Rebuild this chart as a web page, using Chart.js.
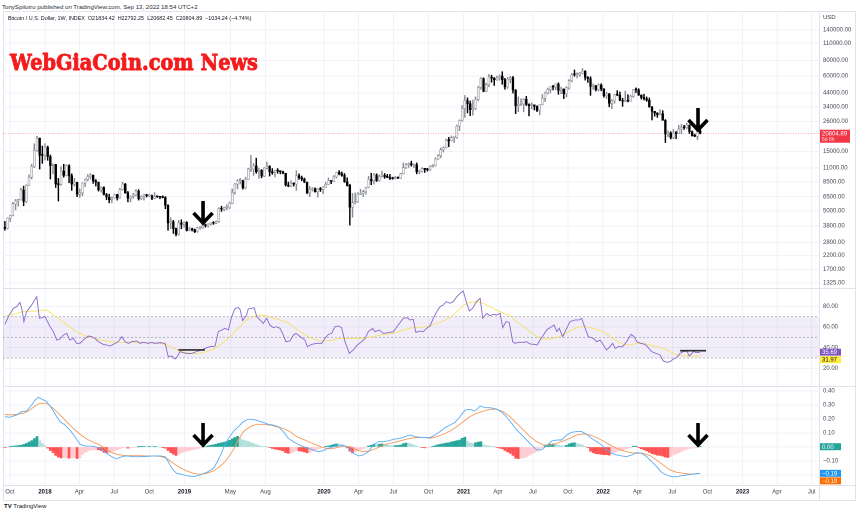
<!DOCTYPE html>
<html><head><meta charset="utf-8">
<script src="https://cdn.jsdelivr.net/npm/chart.js@4.4.1/dist/chart.umd.min.js"></script>
<style>
html,body{margin:0;padding:0;background:#fff;}
#wrap{position:relative;width:860px;height:513px;overflow:hidden;background:#fff;font-family:"Liberation Sans",Arial,sans-serif;}
canvas{position:absolute;}
.t{position:absolute;white-space:nowrap;color:#131722;line-height:1;}
.ln{position:absolute;background:#e0e3eb;}
</style></head><body>
<div id="wrap">
  <div class="ln" style="left:3px;top:11px;width:852px;height:1px"></div>
  <div class="ln" style="left:3px;top:500px;width:852px;height:1px"></div>
  <div class="ln" style="left:3px;top:11px;width:1px;height:490px"></div>
  <div class="ln" style="left:855px;top:11px;width:1px;height:490px"></div>
  <canvas id="cMain" width="852" height="277" style="left:3px;top:11px;width:852px;height:277px"></canvas>
  <canvas id="cRsi" width="852" height="98" style="left:3px;top:288px;width:852px;height:98px"></canvas>
  <canvas id="cMacd" width="852" height="114" style="left:3px;top:386px;width:852px;height:114px"></canvas>
  <div class="ln" style="left:3px;top:288px;width:852px;height:1px"></div>
  <div class="ln" style="left:3px;top:386px;width:852px;height:1px"></div>
  <div class="ln" style="left:3px;top:485px;width:852px;height:1px"></div>
  <div class="ln" style="left:819px;top:11px;width:1px;height:490px"></div>
  <div class="t" id="credit" style="left:2px;top:4px;font-size:5.5px;color:#2a2e39">TonySpilotro published on TradingView.com, Sep 13, 2022 18:54 UTC+2</div>
  <div class="t" id="legend" style="left:8px;top:15.5px;font-size:6px;color:#131722">Bitcoin / U.S. Dollar, 1W, INDEX&nbsp; O21834.42&nbsp; H22792.25&nbsp; L20682.45&nbsp; C20804.89&nbsp; −1034.24 (−4.74%)</div>
  <div class="t" id="wm" style="left:10px;top:50px;font-size:23px;font-weight:bold;font-family:'DejaVu Serif',serif;color:#f51b1b;-webkit-text-stroke:0.9px #f51b1b;transform-origin:0 0">WebGiaCoin.com News</div>
  <div class="t" style="left:823px;top:14px;font-size:6px;color:#434651">USD</div>
  <div class="t" style="left:4px;top:503px;font-size:6px;color:#131722"><b>TV</b> TradingView</div>
</div>
<script>
// ---------- DATA ----------
const firstOpen = 3690;
const closes = [3620,4380,4600,5690,6010,6130,7360,5950,8030,9300,
11300,15200,19100,13900,13880,16200,13600,11500,11760,8200,
8100,10400,9600,11500,9550,8200,8450,6800,7000,8350,
8900,9400,9650,8700,8500,7350,7700,6770,6450,6150,
6350,6750,6350,7400,8200,7000,6300,6500,6700,7200,
6250,6500,6700,6600,6600,6300,6500,6480,6420,6400,
5550,4000,4100,3600,3250,4000,3900,4050,3500,3550,
3530,3410,3660,3660,3830,3800,3920,4000,3990,4100,
5200,5150,5300,5300,5750,7000,8200,8700,8700,7650,
8950,10800,10800,11450,10300,10550,9500,11000,11400,10300,
10100,10500,10400,10300,10000,8050,7900,8300,8200,9550,
9200,9000,8500,7000,7400,7500,7100,7500,7400,7750,
8150,8700,8600,9350,10150,9900,9650,8550,8000,5350,
5800,5900,6800,6900,7100,7700,8900,8700,9700,8700,
9450,9650,9350,9300,9100,9050,9250,9150,9900,11050,
11700,11900,11650,11700,10250,10350,10900,10750,10650,11350,
11500,13000,13800,15400,16000,18400,18200,19200,19200,23800,
26400,33000,38200,36000,32300,33100,38900,48700,57400,45200,
51200,59000,57400,55800,58200,59800,56100,49100,56600,58200,
46400,34700,35600,35800,39000,35500,34700,35300,34200,31800,
35400,39900,43800,47100,49300,48900,51800,46000,47300,43200,
48200,54900,61500,61300,61300,63300,65500,58700,57200,49400,
50100,46700,50800,47300,41800,43100,36300,37900,42400,42200,
38400,37700,38400,37800,41300,46800,46400,42200,40400,39500,
38500,34000,31300,30300,29400,29900,26600,20600,21000,19300,
20850,20800,22600,23300,23200,24300,21500,20000,19800,21834.42,
20804.89];
const highs = [4120,4400,4620,5850,6180,6200,7600,7890,8100,9700,
11800,17200,19800,19100,16500,17250,16500,14000,11900,11800,
9100,11300,11800,11700,11700,9900,9100,8500,7500,8400,
9000,9800,9950,9700,8900,8500,7800,7800,6900,6800,
6450,6800,6800,7600,8500,8300,7150,6600,6900,7400,
7400,6600,6800,6800,6750,6700,7000,6600,6500,6600,
6500,5600,4400,4200,3650,4200,4250,4100,4100,3700,
3640,3580,3700,3700,4200,3920,3950,4020,4100,4150,
5300,5450,5350,5600,5900,7500,8300,8900,9100,8800,
9300,11000,13900,12000,13200,11000,10700,11100,12300,11500,
10900,10600,10900,10500,10400,10000,8500,8700,8400,10500,
9900,9500,9150,8500,7850,7700,7650,7550,7700,7800,
8450,9200,8750,9600,10200,10500,10250,9950,9200,8150,
6900,6950,7000,7450,7300,7750,9450,10000,9950,9900,
9700,10400,9950,9800,9800,9300,9450,9350,10000,12100,
12000,12100,12500,11800,12100,10600,11100,10950,10950,11450,
11750,13300,14100,15950,16300,18800,19400,19900,19400,24300,
26800,34800,41950,40100,37800,38500,40900,49700,58300,58000,
52600,61800,60800,58400,60000,61300,64900,57500,58400,59600,
59500,46700,40800,39500,39500,41300,36000,36600,35100,34700,
35400,42600,44700,48100,49300,50500,51900,52900,48800,47300,
49200,56100,62900,67000,63700,64200,69000,66300,59300,59200,
51900,50600,51900,52100,47600,44500,43500,38900,42700,45800,
44700,39800,45400,42500,42300,46900,48200,47500,42400,42900,
40800,40000,34200,31300,30600,32300,31700,26900,21800,21500,
22400,21600,24200,24600,24200,25200,24400,21800,20600,21900,
22792.25];
const lows = [3500,3580,4100,4560,5100,5450,6120,5500,5800,7990,
9010,11100,15000,10800,12000,12750,12700,9000,9900,7700,
6000,8000,9300,9500,8400,7300,7900,6500,6400,6600,
7800,8700,9000,8300,7900,7200,7050,6700,6150,5800,
5800,6300,6100,6300,7300,6900,5900,5900,6300,6600,
6100,6150,6100,6450,6500,6150,6250,6400,6250,6350,
5200,3500,3600,3300,3150,3200,3600,3700,3450,3470,
3450,3350,3370,3560,3620,3700,3700,3850,3900,3950,
4050,4950,5000,5100,5200,5700,6800,7500,8200,7450,
7500,8900,10300,9600,10000,9100,9200,9400,10800,9500,
9800,9350,10000,9900,9900,7900,7800,7800,7900,7300,
8950,8700,8400,6850,6500,7200,7050,6450,7150,6850,
7700,8100,8250,8550,9150,9700,9450,8450,7900,3850,
4450,5700,5850,6750,6500,6800,7650,8100,8200,8600,
8650,9300,9100,9200,8900,8950,9000,9050,9100,9850,
10900,11150,11400,11100,9900,9900,10200,10150,10400,10500,
11200,11400,12900,13300,14800,15900,16300,18100,17600,19000,
21900,26000,28000,30400,28900,29200,32300,37900,47000,44900,
45000,49300,53500,50400,55400,55500,51500,47000,47800,52900,
43800,30000,31100,34800,31000,34800,28800,32700,32100,31100,
29300,35200,37400,43000,43900,46400,46600,42800,43300,39600,
40800,46900,53900,59700,58000,59500,62300,55600,53300,42000,
46900,45500,45600,45700,40600,39600,34000,32900,36300,41700,
38000,34300,37500,37200,37600,40500,44200,41900,39200,38500,
37600,33700,26700,28600,28000,29300,26500,17600,19600,18800,
18900,18900,20700,20700,22400,22700,20800,19800,19600,18600,
20682.45];
const countdown = '5d 8h';

// RSI(14) and its moving average, [week, value]
const rsiPts = [[0,62.6],[1.3,70.0],[3.2,78.0],[4.4,79.6],[5.6,83.8],[6.3,78.0],[7.1,65.1],[8.1,74.8],[10.0,81.3],[11.9,89.3],[12.9,68.4],[13.8,69.0],[15.0,70.0],[15.6,66.8],[16.9,60.3],[18.1,55.5],[19.4,47.4],[20.6,48.4],[21.9,52.3],[23.1,53.9],[24.3,47.4],[25.6,49.0],[26.8,44.2],[28.1,44.2],[29.3,47.4],[31.2,51.3],[32.5,50.7],[33.7,49.0],[34.9,45.8],[36.8,43.2],[38.1,42.6],[39.3,41.6],[41.2,44.2],[42.4,45.8],[43.7,50.7],[44.9,45.8],[46.2,44.2],[47.4,45.8],[49.3,46.5],[50.5,44.2],[51.8,45.2],[53.6,44.2],[54.9,45.2],[56.1,44.2],[58.0,44.9],[59.9,44.2],[61.1,31.3],[62.4,32.0],[63.6,29.1],[64.2,30.4],[65.5,36.2],[66.7,35.2],[68.0,34.5],[69.8,34.5],[71.7,36.2],[73.6,37.8],[74.8,39.4],[76.7,41.0],[78.6,41.6],[79.8,55.5],[81.1,57.1],[82.3,58.7],[83.6,57.1],[84.8,70.0],[86.1,78.0],[87.3,78.7],[87.9,77.4],[88.9,66.1],[90.4,71.6],[91.0,77.4],[92.3,78.0],[93.2,78.7],[94.2,70.0],[95.4,66.8],[96.6,63.5],[97.9,68.4],[99.1,61.9],[100.4,59.4],[101.6,60.3],[102.9,58.7],[104.1,52.3],[105.1,45.8],[106.6,46.5],[107.9,52.3],[108.9,53.9],[110.4,50.7],[112.2,47.4],[113.1,41.0],[114.7,43.2],[116.6,44.2],[118.5,44.2],[119.7,49.0],[121.0,52.9],[122.2,53.9],[123.4,60.3],[124.7,61.0],[125.9,59.4],[127.2,45.8],[128.8,34.5],[130.3,37.8],[131.8,42.6],[133.4,45.8],[134.7,49.0],[135.9,55.5],[137.5,58.7],[138.4,55.5],[140.0,57.1],[141.5,53.9],[143.4,54.5],[145.3,55.5],[147.1,61.9],[149.0,68.4],[150.5,69.0],[151.5,66.8],[152.7,67.4],[153.7,54.8],[155.2,56.1],[156.5,55.5],[157.7,58.7],[159.0,61.0],[160.2,68.4],[161.5,74.8],[162.7,79.6],[164.0,81.3],[165.0,84.5],[166.5,82.9],[167.7,84.5],[169.0,89.3],[170.2,92.5],[171.4,94.8],[172.7,82.9],[173.7,75.5],[174.9,78.0],[176.4,84.5],[177.7,87.7],[178.7,68.4],[180.2,73.2],[181.4,70.9],[182.7,72.2],[183.9,71.6],[185.2,73.2],[186.2,59.4],[187.4,65.1],[188.6,64.5],[189.9,45.8],[190.8,44.2],[192.0,45.2],[193.9,45.2],[195.1,45.8],[196.4,43.6],[198.2,43.2],[199.1,42.6],[200.1,47.4],[201.4,52.3],[202.6,57.1],[203.9,59.4],[205.4,61.9],[206.4,55.5],[207.3,58.7],[208.6,50.7],[210.1,58.7],[211.3,65.1],[213.2,66.8],[214.8,66.8],[215.7,68.4],[217.0,58.7],[218.2,50.7],[220.1,49.0],[221.3,45.8],[222.6,47.4],[223.8,42.6],[225.0,37.8],[226.3,41.0],[227.3,44.2],[228.2,39.4],[229.4,41.0],[231.0,41.0],[232.5,45.8],[234.2,52.9],[235.3,50.7],[236.3,45.8],[237.8,44.2],[239.4,43.2],[240.3,41.0],[241.9,36.2],[243.5,34.5],[245.0,33.0],[246.2,27.2],[247.7,25.9],[248.7,26.5],[250.0,29.1],[251.2,30.4],[252.5,34.5],[253.7,36.2],[255.0,36.8],[256.0,32.0],[257.5,36.2],[258.7,35.2],[260,35.69]];
const rsiMaPts = [[0,70.6],[1.9,71.6],[4.4,73.2],[6.9,74.8],[9.4,74.8],[11.9,75.5],[14.4,76.4],[16.2,75.5],[18.1,71.6],[20.0,68.4],[22.5,63.5],[25.0,58.7],[27.5,54.5],[30.0,51.6],[32.5,49.7],[35.6,47.4],[39.3,45.8],[43.0,45.2],[46.8,45.2],[50.5,45.2],[54.3,44.5],[58.0,44.2],[60.5,42.6],[63.0,39.4],[65.5,36.8],[68.0,35.2],[70.5,34.5],[73.0,34.5],[75.5,36.2],[78.0,38.8],[80.4,42.6],[82.9,47.4],[85.4,53.9],[87.9,60.3],[90.4,66.8],[92.9,70.0],[95.4,71.6],[97.9,71.0],[100.4,68.4],[102.9,66.8],[105.4,64.5],[107.9,60.3],[110.4,55.5],[112.9,51.6],[115.3,48.4],[117.8,46.5],[120.3,46.5],[122.8,47.4],[125.3,49.0],[127.8,49.0],[130.3,49.0],[132.8,49.0],[135.3,49.7],[137.8,50.7],[140.3,52.3],[142.8,52.9],[145.3,53.9],[147.8,56.1],[150.3,58.1],[152.7,59.4],[155.2,59.7],[159.0,61.0],[161.5,63.5],[164.0,65.8],[166.5,69.0],[169.0,74.8],[171.4,80.6],[173.9,83.8],[176.4,84.5],[178.9,82.9],[181.4,79.6],[183.9,76.4],[186.4,73.2],[188.9,71.0],[191.4,65.1],[193.9,60.3],[196.4,55.5],[198.9,50.7],[201.4,48.4],[203.9,48.4],[206.3,49.7],[208.8,52.3],[211.3,56.1],[213.8,59.4],[216.3,61.0],[218.8,59.4],[221.3,57.7],[223.8,55.5],[226.3,50.7],[228.8,46.5],[231.3,43.2],[233.8,42.6],[236.3,44.2],[238.8,44.2],[241.3,42.6],[243.7,41.0],[246.2,39.4],[248.7,36.2],[251.2,33.0],[253.7,32.0],[256.2,32.0],[260,31.97]];
// annotation segments drawn on the RSI pane: [weekStart, weekEnd, value]
const rsiMarks = [[64.9,74.8,37.8],[252.5,262.2,37.1]];

// MACD line, signal line [week, value] and weekly histogram
const macdPts = [[0,0.217],[1.9,0.212],[4.4,0.229],[6.3,0.252],[8.1,0.257],[10.0,0.300],[11.3,0.336],[12.5,0.355],[14.4,0.336],[15.6,0.324],[17.5,0.276],[19.4,0.217],[20.6,0.181],[22.5,0.157],[24.3,0.122],[26.2,0.074],[28.1,0.019],[30.0,0.007],[31.8,0.007],[33.7,0.002],[35.6,-0.009],[38.1,-0.045],[39.9,-0.069],[41.8,-0.086],[43.7,-0.069],[45.5,-0.064],[48.0,-0.069],[50.5,-0.069],[53.0,-0.067],[55.5,-0.064],[58.0,-0.064],[59.9,-0.069],[61.1,-0.105],[62.4,-0.152],[64.2,-0.188],[66.1,-0.195],[68.0,-0.205],[70.5,-0.212],[73.0,-0.200],[75.5,-0.181],[78.0,-0.152],[79.8,-0.093],[81.7,-0.009],[83.6,0.062],[85.4,0.110],[87.3,0.145],[89.2,0.181],[91.0,0.198],[92.9,0.198],[94.8,0.186],[96.6,0.176],[98.5,0.162],[100.4,0.157],[102.3,0.145],[104.1,0.110],[106.0,0.062],[107.9,0.038],[109.7,0.019],[111.6,0.002],[113.5,-0.009],[115.3,-0.021],[117.2,-0.033],[119.1,-0.026],[121.0,-0.009],[122.8,0.002],[124.7,0.014],[126.6,0.014],[128.4,-0.005],[130.3,-0.045],[132.2,-0.064],[134.0,-0.057],[135.9,-0.033],[137.8,0.014],[139.7,0.038],[141.5,0.038],[143.4,0.043],[145.3,0.055],[147.8,0.062],[149.6,0.074],[151.5,0.086],[153.4,0.074],[155.2,0.069],[157.1,0.067],[159.0,0.067],[160.8,0.086],[162.7,0.110],[164.6,0.138],[166.5,0.157],[168.3,0.176],[170.2,0.217],[172.1,0.264],[174.0,0.269],[175.8,0.257],[177.7,0.293],[179.5,0.281],[181.4,0.281],[183.9,0.271],[185.8,0.248],[187.6,0.217],[189.5,0.169],[191.4,0.122],[193.3,0.086],[195.1,0.050],[197.0,0.014],[198.9,-0.021],[200.7,-0.021],[202.6,0.010],[204.5,0.043],[206.4,0.050],[208.2,0.050],[210.1,0.086],[212.0,0.105],[213.8,0.110],[215.7,0.110],[217.6,0.090],[219.4,0.062],[221.3,0.038],[223.2,0.014],[225.0,-0.021],[226.9,-0.045],[228.8,-0.057],[230.7,-0.064],[232.5,-0.069],[234.4,-0.057],[236.3,-0.040],[238.1,-0.045],[240.0,-0.069],[241.9,-0.105],[243.7,-0.140],[245.6,-0.181],[247.5,-0.200],[249.4,-0.212],[251.2,-0.212],[253.1,-0.205],[255.0,-0.200],[256.8,-0.195],[260,-0.188]];
const signalPts = [[0,0.233],[1.9,0.229],[4.4,0.233],[6.9,0.240],[9.4,0.264],[11.3,0.295],[13.1,0.312],[15.6,0.312],[18.1,0.276],[20.6,0.229],[23.1,0.181],[25.6,0.133],[28.1,0.091],[30.6,0.057],[33.1,0.033],[35.6,0.014],[38.1,-0.021],[40.6,-0.045],[43.0,-0.057],[45.5,-0.062],[48.0,-0.062],[50.5,-0.062],[53.0,-0.064],[55.5,-0.064],[58.0,-0.067],[60.5,-0.081],[63.0,-0.117],[65.5,-0.148],[68.0,-0.171],[70.5,-0.188],[73.0,-0.195],[75.5,-0.188],[78.0,-0.171],[80.4,-0.140],[82.9,-0.093],[85.4,-0.021],[87.3,0.050],[89.2,0.110],[91.7,0.145],[94.2,0.162],[96.6,0.162],[99.1,0.157],[101.6,0.145],[104.1,0.133],[106.6,0.110],[109.1,0.074],[111.6,0.055],[114.1,0.033],[116.6,0.014],[119.1,-0.005],[121.6,-0.014],[124.1,-0.005],[126.6,0.007],[129.1,0.002],[131.5,-0.021],[134.0,-0.033],[136.5,-0.028],[139.0,-0.009],[141.5,0.014],[144.0,0.026],[146.5,0.038],[149.0,0.050],[151.5,0.062],[154.0,0.067],[156.5,0.069],[159.0,0.062],[161.5,0.074],[164.0,0.091],[166.5,0.114],[169.0,0.145],[171.4,0.181],[173.9,0.217],[176.4,0.240],[178.9,0.257],[181.4,0.269],[183.9,0.269],[186.4,0.252],[188.9,0.217],[191.4,0.169],[193.9,0.122],[196.4,0.074],[198.9,0.038],[201.4,0.014],[203.9,0.014],[206.3,0.026],[208.8,0.043],[211.3,0.062],[213.8,0.086],[216.3,0.093],[218.8,0.086],[221.3,0.067],[223.8,0.043],[226.3,0.014],[228.8,-0.009],[231.3,-0.028],[233.8,-0.040],[236.3,-0.045],[238.8,-0.045],[241.3,-0.062],[243.7,-0.093],[246.2,-0.129],[248.7,-0.164],[251.2,-0.181],[253.7,-0.188],[256.2,-0.193],[260,-0.190]];
const hist = [-0.005,-0.004,0.002,0.006,0.008,0.010,0.012,0.018,0.025,0.035,
0.045,0.060,0.075,0.045,0.025,0.010,-0.008,-0.025,-0.040,-0.060,
-0.072,-0.078,-0.076,-0.075,-0.080,-0.078,-0.075,-0.082,-0.078,-0.055,
-0.040,-0.030,-0.022,-0.020,-0.018,-0.020,-0.025,-0.038,-0.042,-0.040,
-0.035,-0.025,-0.020,-0.012,-0.005,-0.004,-0.008,-0.006,-0.004,-0.002,
0.001,0.002,0.003,0.002,0.002,0.001,0.002,0.001,0.000,-0.002,
-0.008,-0.025,-0.040,-0.052,-0.060,-0.050,-0.042,-0.035,-0.030,-0.025,
-0.020,-0.016,-0.012,-0.008,-0.003,0.003,0.008,0.012,0.016,0.020,
0.026,0.030,0.034,0.040,0.048,0.058,0.068,0.076,0.062,0.050,
0.045,0.040,0.032,0.025,0.016,0.010,0.006,0.004,0.001,-0.004,
-0.010,-0.015,-0.018,-0.022,-0.028,-0.040,-0.045,-0.042,-0.036,-0.025,
-0.028,-0.030,-0.035,-0.042,-0.040,-0.030,-0.022,-0.015,-0.010,-0.005,
0.002,0.008,0.012,0.018,0.022,0.020,0.012,0.004,-0.006,-0.030,
-0.042,-0.035,-0.025,-0.018,-0.012,-0.004,0.008,0.012,0.020,0.018,
0.020,0.022,0.018,0.015,0.012,0.010,0.010,0.011,0.014,0.024,
0.028,0.026,0.020,0.014,0.006,0.000,-0.004,-0.006,-0.005,-0.003,
0.002,0.010,0.016,0.020,0.024,0.028,0.030,0.036,0.040,0.045,
0.050,0.062,0.070,0.040,0.028,0.025,0.030,0.035,0.038,0.015,
0.010,0.008,0.005,0.002,-0.004,-0.008,-0.012,-0.025,-0.035,-0.045,
-0.060,-0.080,-0.083,-0.080,-0.078,-0.070,-0.060,-0.050,-0.040,-0.030,
-0.018,-0.005,0.008,0.015,0.020,0.022,0.020,0.012,0.010,0.008,
0.012,0.022,0.028,0.030,0.025,0.018,0.014,0.005,-0.005,-0.030,
-0.040,-0.048,-0.050,-0.052,-0.055,-0.055,-0.058,-0.045,-0.035,-0.030,
-0.025,-0.022,-0.015,-0.010,-0.005,0.002,0.006,-0.002,-0.012,-0.020,
-0.028,-0.038,-0.048,-0.052,-0.058,-0.060,-0.065,-0.072,-0.075,-0.068,
-0.058,-0.050,-0.042,-0.032,-0.022,-0.015,-0.010,-0.008,-0.006,-0.003,
0.002];

// arrows: [week, value at arrow tip]
const priceArrows = [[74.1,3930],[259.2,21780]];
const macdArrows = [[74.1,0.007],[259.2,0.007]];

// axes
const priceTicks = [140000,110000,80000,60000,44000,34000,26000,15000,11000,8500,6500,5000,3800,2800,2200,1700,1325];
const rsiTicks = [80,60,40,20];
const macdTicks = [0.4,0.3,0.2,0.1,0,-0.1,-0.2];
const macdTickLabels = ['0.40','0.30','0.20','0.10','','−0.10',''];
const timeLabels = ['Oct','2018','Apr','Jul','Oct','2019','May','Aug','2020','Apr','Jul','Oct','2021','Apr','Jul','Oct','2022','Apr','Jul','Oct','2023','Apr','Jul'];
const timeDates = ['2017-10-01','2018-01-01','2018-04-01','2018-07-01','2018-10-01','2019-01-01','2019-05-01','2019-08-01','2020-01-01','2020-04-01','2020-07-01','2020-10-01','2021-01-01','2021-04-01','2021-07-01','2021-10-01','2022-01-01','2022-04-01','2022-07-01','2022-10-01','2023-01-01','2023-04-01','2023-07-01'];

// ---------- SETUP ----------
const W0 = Date.UTC(2017,8,18);
const timeW = timeDates.map(d => (Date.parse(d+'T00:00:00Z') - W0)/604800000);
const X_MIN = -0.71, X_MAX = 304.45;
const opens = closes.map((c,i)=> i===0 ? firstOpen : closes[i-1]);
const isUp = closes.map((c,i)=> c >= opens[i]);
const FONT = '"Liberation Sans", Arial, sans-serif';
Chart.defaults.font.family = FONT;
Chart.defaults.font.size = 6;
Chart.defaults.animation = false;
const GRID = '#f0f3fa';
const TICKC = '#434651';

function timeAxis(show){
  return {type:'linear', min:X_MIN, max:X_MAX, offset:false,
    afterBuildTicks: s => { s.ticks = timeW.map(v=>({value:v})); },
    afterFit: s => { s.height = show ? 15 : 0; s.paddingLeft = 0; s.paddingRight = 0; },
    ticks:{display:show, autoSkip:false, maxRotation:0, minRotation:0, padding:3,
      callback:(v,i)=>timeLabels[i],
      font:c=>({size:6, weight: /^\d{4}$/.test(timeLabels[c.index]||'') ? 'bold':'normal'}),
      color:c=> /^\d{4}$/.test(timeLabels[c.index]||'') ? '#131722' : TICKC},
    grid:{color:GRID, drawTicks:false, offset:false, lineWidth:1}, border:{display:false}};
}
function rightAxis(type,min,max,ticks,fmt){
  return {type, position:'right', min, max,
    afterBuildTicks: s => { s.ticks = ticks.map(v=>({value:v})); },
    afterFit: s => { s.width = 36; s.paddingTop = 0; s.paddingBottom = 0; },
    ticks:{autoSkip:false, padding:4, color:TICKC, font:{size:6}, callback:(v,i)=>fmt(v,i)},
    grid:{color:GRID, drawTicks:false, lineWidth:1}, border:{display:false}};
}
function tag(ctx,x,yc,w,h,bg,fg,txt){
  ctx.save();
  ctx.fillStyle = bg; ctx.fillRect(x, yc-h/2, w, h);
  ctx.fillStyle = fg; ctx.font = '6px '+FONT; ctx.textBaseline='middle'; ctx.textAlign='left';
  ctx.fillText(txt, x+3, yc+0.4);
  ctx.restore();
}
function arrow(ctx,x,tip){
  ctx.save();
  ctx.strokeStyle='#000'; ctx.lineWidth=3.6; ctx.lineCap='butt'; ctx.lineJoin='miter';
  ctx.beginPath(); ctx.moveTo(x, tip-23); ctx.lineTo(x, tip-2); ctx.stroke();
  ctx.beginPath(); ctx.moveTo(x-9.5, tip-11); ctx.lineTo(x, tip-1); ctx.lineTo(x+9.5, tip-11); ctx.stroke();
  ctx.restore();
}
const basePlugins = {legend:{display:false}, tooltip:{enabled:false}};

// ---------- MAIN (candles) ----------
const lastClose = closes[closes.length-1];
new Chart(document.getElementById('cMain'), {
  type:'bar',
  data:{datasets:[
    {label:'body', order:0, grouped:false, barThickness:1.9, minBarLength:1, borderSkipped:false,
     data: closes.map((c,i)=>({x:i, y:[Math.min(opens[i],c), Math.max(opens[i],c)]})),
     backgroundColor: c => isUp[c.dataIndex] ? '#f2f2f2' : '#000000',
     borderColor: c => isUp[c.dataIndex] ? '#7b7e88' : '#000000', borderWidth:0.5},
    {label:'wick', order:1, grouped:false, barThickness:0.8, borderSkipped:false,
     data: closes.map((c,i)=>({x:i, y:[lows[i], highs[i]]})),
     backgroundColor: c => isUp[c.dataIndex] ? '#8a8d96' : '#000000', borderWidth:0}
  ]},
  options:{responsive:false, devicePixelRatio:2, layout:{padding:0},
    scales:{x:timeAxis(false), y:rightAxis('logarithmic',1208,198700,priceTicks,v=>v.toFixed(2))},
    plugins:basePlugins},
  plugins:[{id:'mainDeco',
    beforeDatasetsDraw(ch){
      const {ctx,chartArea:a} = ch; const y = ch.scales.y.getPixelForValue(lastClose);
      ctx.save(); ctx.strokeStyle='rgba(242,54,69,0.55)'; ctx.lineWidth=0.7; ctx.setLineDash([1,1.5]);
      ctx.beginPath(); ctx.moveTo(a.left,y); ctx.lineTo(a.right,y); ctx.stroke(); ctx.restore();
    },
    afterDatasetsDraw(ch){
      priceArrows.forEach(p=>arrow(ch.ctx, ch.scales.x.getPixelForValue(p[0]), ch.scales.y.getPixelForValue(p[1])));
    },
    afterDraw(ch){
      const {ctx,chartArea:a} = ch; const y = ch.scales.y.getPixelForValue(lastClose);
      ctx.save();
      ctx.fillStyle='#f23645'; ctx.fillRect(a.right, y-3.8, 31, 13);
      ctx.fillStyle='#fff'; ctx.font='6px '+FONT; ctx.textBaseline='middle';
      ctx.fillText(lastClose.toFixed(2), a.right+3, y+0.3);
      ctx.font='5px '+FONT; ctx.fillStyle='rgba(255,255,255,0.85)';
      ctx.fillText(countdown, a.right+3, y+6.2);
      ctx.restore();
    }}]
});

// ---------- RSI ----------
const rsiLast = rsiPts[rsiPts.length-1][1], rsiMaLast = rsiMaPts[rsiMaPts.length-1][1];
new Chart(document.getElementById('cRsi'), {
  type:'line',
  data:{datasets:[
    {label:'RSI', data: rsiPts.map(p=>({x:p[0],y:p[1]})), borderColor:'#8a67cc', borderWidth:0.9, pointRadius:0, tension:0, order:1},
    {label:'RSI MA', data: rsiMaPts.map(p=>({x:p[0],y:p[1]})), borderColor:'rgba(246,222,80,0.85)', borderWidth:0.9, pointRadius:0, tension:0, order:2},
    ...rsiMarks.map(m=>({label:'mark', data:[{x:m[0],y:m[2]},{x:m[1],y:m[2]}], borderColor:'#2a2a2a', borderWidth:1.6, pointRadius:0, order:0}))
  ]},
  options:{responsive:false, devicePixelRatio:2, layout:{padding:0},
    scales:{x:timeAxis(false), y:rightAxis('linear',2.995,97.68,rsiTicks,v=>v.toFixed(2))},
    plugins:basePlugins},
  plugins:[{id:'rsiBand',
    beforeDatasetsDraw(ch){
      const {ctx,chartArea:a} = ch; const ys = ch.scales.y;
      const y70 = ys.getPixelForValue(70), y30 = ys.getPixelForValue(30), y50 = ys.getPixelForValue(50);
      ctx.save();
      ctx.fillStyle='rgba(126,87,194,0.10)'; ctx.fillRect(a.left, y70, a.right-a.left, y30-y70);
      ctx.strokeStyle='rgba(120,123,134,0.6)'; ctx.lineWidth=0.8; ctx.setLineDash([2,2]);
      [y70,y50,y30].forEach(y=>{ctx.beginPath(); ctx.moveTo(a.left,y); ctx.lineTo(a.right,y); ctx.stroke();});
      ctx.restore();
    },
    afterDraw(ch){
      const {ctx,chartArea:a} = ch; const ys = ch.scales.y;
      const y1 = ys.getPixelForValue(rsiLast); let y2 = ys.getPixelForValue(rsiMaLast);
      if (y2 < y1 + 7.5) y2 = y1 + 7.5;
      tag(ctx, a.right, y1, 22, 7, '#7e57c2', '#ffffff', rsiLast.toFixed(2));
      tag(ctx, a.right, y2, 22, 7, '#ffeb3b', '#131722', rsiMaLast.toFixed(2));
    }}]
});

// ---------- MACD ----------
const histColor = hist.map((h,i)=>{ const p = i>0 ? hist[i-1] : h;
  return h >= 0 ? (h >= p ? '#26a69a' : '#b2dfdb') : (h <= p ? '#ff5252' : '#ffcdd2'); });
const macdLast = macdPts[macdPts.length-1][1], sigLast = signalPts[signalPts.length-1][1], histLast = hist[hist.length-1];
new Chart(document.getElementById('cMacd'), {
  type:'bar',
  data:{datasets:[
    {type:'line', label:'MACD', data: macdPts.map(p=>({x:p[0],y:p[1]})), borderColor:'#5aaef5', borderWidth:0.9, pointRadius:0, tension:0, order:0},
    {type:'line', label:'Signal', data: signalPts.map(p=>({x:p[0],y:p[1]})), borderColor:'#f79a5a', borderWidth:0.9, pointRadius:0, tension:0, order:1},
    {type:'bar', label:'Histogram', data: hist.map((h,i)=>({x:i,y:h})), backgroundColor: c=>histColor[c.dataIndex], barThickness:2.1, grouped:false, borderWidth:0, order:2}
  ]},
  options:{responsive:false, devicePixelRatio:2, layout:{padding:0},
    scales:{x:timeAxis(true), y:rightAxis('linear',-0.2714,0.4357,macdTicks,(v,i)=>macdTickLabels[i])},
    plugins:basePlugins},
  plugins:[{id:'macdDeco',
    afterDatasetsDraw(ch){
      macdArrows.forEach(p=>arrow(ch.ctx, ch.scales.x.getPixelForValue(p[0]), ch.scales.y.getPixelForValue(p[1])));
    },
    afterDraw(ch){
      const {ctx,chartArea:a} = ch; const ys = ch.scales.y;
      tag(ctx, a.right, ys.getPixelForValue(histLast), 22, 7, '#26a69a', '#ffffff', histLast.toFixed(2));
      const y1 = ys.getPixelForValue(macdLast); let y2 = ys.getPixelForValue(sigLast);
      if (y2 < y1 + 7.5) y2 = y1 + 7.5;
      tag(ctx, a.right, y1, 22, 7, '#2196f3', '#ffffff', '−'+Math.abs(macdLast).toFixed(2));
      tag(ctx, a.right, y2, 22, 7, '#ff6d00', '#ffffff', '−'+Math.abs(sigLast).toFixed(2));
    }}]
});

// ---------- text fitting ----------
function fitWidth(id, target, scaleOnly){
  const el = document.getElementById(id); const w = el.getBoundingClientRect().width;
  if (!w) return;
  if (scaleOnly) el.style.transform = 'scaleX(' + (target / w) + ')';
  else el.style.fontSize = (parseFloat(el.style.fontSize) * target / w) + 'px';
}
fitWidth('credit', 196, false);
fitWidth('legend', 244, false);
fitWidth('wm', 248, true);
</script>
</body></html>
